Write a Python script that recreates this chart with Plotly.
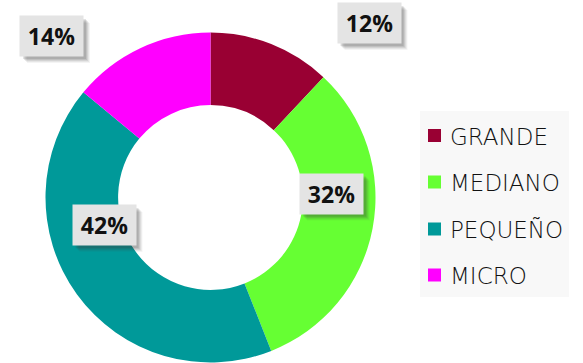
import plotly.graph_objects as go

# Company size distribution
categories = ["GRANDE", "MEDIANO", "PEQUEÑO", "MICRO"]
values = [12, 32, 42, 14]
colors = ["#990033", "#66FF33", "#009999", "#FF00FF"]

W, H = 583, 363


def px(x):
    return x / W


def py(y):
    return 1 - y / H


# donut geometry in pixels
cx, cy, r = 210.5, 197.5, 165

fig = go.Figure(
    go.Pie(
        labels=categories,
        values=values,
        marker=dict(colors=colors, line=dict(color="white", width=0)),
        hole=0.56,
        sort=False,
        direction="clockwise",
        rotation=0,
        textinfo="none",
        hoverinfo="label+percent",
        showlegend=False,
        domain=dict(x=[px(cx - r), px(cx + r)], y=[py(cy + r), py(cy - r)]),
    )
)

shapes = []
annotations = []

# value labels in grey boxes with a soft drop shadow
label_centers = [(369, 23), (331.5, 193.5), (104, 225), (51.5, 36)]
bw, bh = 63, 40
for v, (lx, ly) in zip(values, label_centers):
    for off, op in [(7, 0.06), (6, 0.08), (5, 0.10), (4, 0.12), (3, 0.14)]:
        shapes.append(dict(
            type="rect", xref="paper", yref="paper", layer="above",
            x0=px(lx - bw / 2 + off), x1=px(lx + bw / 2 + off),
            y0=py(ly + bh / 2 + off), y1=py(ly - bh / 2 + off),
            fillcolor=f"rgba(60,60,60,{op})", line=dict(width=0),
        ))
    annotations.append(dict(
        x=px(lx), y=py(ly), xref="paper", yref="paper",
        text=f"{v}%", showarrow=False,
        width=bw, height=bh, borderpad=0, bgcolor="#e4e4e4",
        font=dict(family="Open Sans", size=23, color="#111111", weight=700),
        xanchor="center", yanchor="middle",
    ))

# legend panel
shapes.append(dict(
    type="rect", xref="paper", yref="paper", layer="above",
    x0=px(420), x1=px(569), y0=py(297), y1=py(111),
    fillcolor="#f8f8f8", line=dict(width=0),
))
legend_rows = [135.5, 182, 229, 275]
for cat, col, ry in zip(categories, colors, legend_rows):
    shapes.append(dict(
        type="rect", xref="paper", yref="paper", layer="above",
        x0=px(428), x1=px(441), y0=py(ry + 6.5), y1=py(ry - 6.5),
        fillcolor=col, line=dict(width=0),
    ))
    annotations.append(dict(
        x=px(448), y=py(ry + 1), xref="paper", yref="paper",
        text=cat, showarrow=False, xanchor="left", yanchor="middle",
        font=dict(family="DejaVu Sans", size=23, color="#111111", weight=300),
    ))

fig.update_layout(
    width=W, height=H,
    margin=dict(l=0, r=0, t=0, b=0),
    paper_bgcolor="white",
    plot_bgcolor="white",
    shapes=shapes,
    annotations=annotations,
)

fig.write_html("out.html")
